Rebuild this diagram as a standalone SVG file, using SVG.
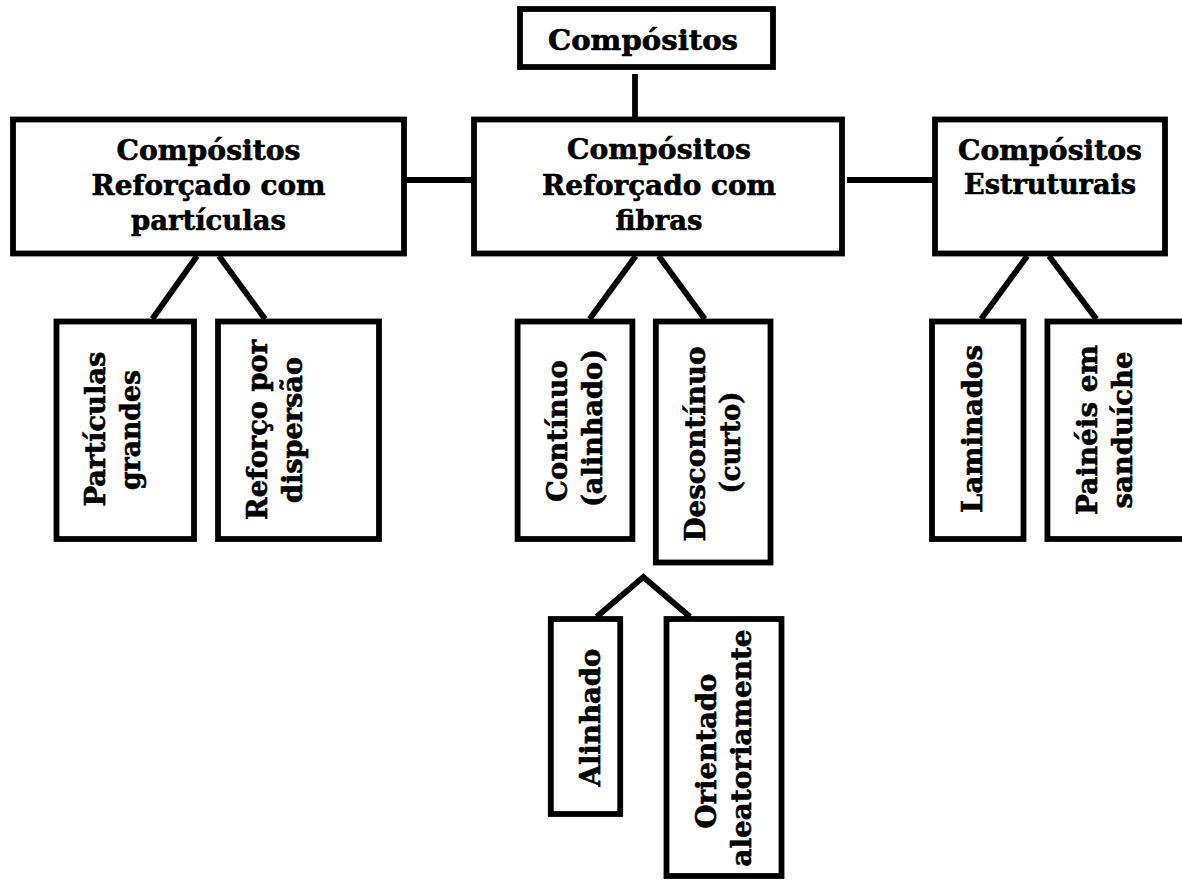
<svg xmlns="http://www.w3.org/2000/svg" width="1182" height="880" viewBox="0 0 1182 880">
<style>
.box{fill:#fff;stroke:#000;stroke-width:5.8}
.ln{fill:none;stroke:#000;stroke-width:5.8;stroke-linejoin:miter}
text{font-family:"DejaVu Serif","Liberation Serif",serif;font-weight:bold;font-size:27.5px;fill:#000;stroke:#000;stroke-width:0.6;text-anchor:middle}
</style>
<rect x="0" y="0" width="1182" height="880" fill="#fff"/>
<g id="connectors">
<line class="ln" x1="635" y1="74" x2="635" y2="119"/>
<line class="ln" x1="404" y1="180" x2="474" y2="180"/>
<line class="ln" x1="847" y1="180" x2="938" y2="180"/>
<line class="ln" x1="197" y1="256" x2="152.3" y2="319"/>
<line class="ln" x1="219" y1="256" x2="265" y2="319"/>
<line class="ln" x1="635.7" y1="256" x2="589.6" y2="319"/>
<line class="ln" x1="658.7" y1="256" x2="704.8" y2="319"/>
<line class="ln" x1="1027.2" y1="256" x2="981.2" y2="319"/>
<line class="ln" x1="1049" y1="256" x2="1096.3" y2="319"/>
<polyline class="ln" points="596.7,616.7 643.3,577 690,616.7"/>
</g>
<g id="n-compositos">
<rect class="box" x="520" y="9" width="253" height="58"/>
<text x="643" y="50" textLength="190" lengthAdjust="spacingAndGlyphs">Compósitos</text>
</g>
<g id="n-particulas">
<rect class="box" x="13" y="119.5" width="391" height="134"/>
<text x="208.5" y="160" textLength="184" lengthAdjust="spacingAndGlyphs">Compósitos</text>
<text x="208.5" y="195" textLength="234" lengthAdjust="spacingAndGlyphs">Reforçado com</text>
<text x="208.5" y="230" textLength="155" lengthAdjust="spacingAndGlyphs">partículas</text>
</g>
<g id="n-fibras">
<rect class="box" x="474" y="119.5" width="368" height="134"/>
<text x="659" y="159" textLength="184" lengthAdjust="spacingAndGlyphs">Compósitos</text>
<text x="659" y="195" textLength="234" lengthAdjust="spacingAndGlyphs">Reforçado com</text>
<text x="659" y="230" textLength="87" lengthAdjust="spacingAndGlyphs">fibras</text>
</g>
<g id="n-estruturais">
<rect class="box" x="935" y="119.5" width="230" height="134"/>
<text x="1050" y="160" textLength="184" lengthAdjust="spacingAndGlyphs">Compósitos</text>
<text x="1050" y="194" textLength="172" lengthAdjust="spacingAndGlyphs">Estruturais</text>
</g>
<g id="n-particulas-grandes">
<rect class="box" x="56.5" y="321.5" width="137.5" height="217.5"/>
<text transform="translate(105,429) rotate(-90)" textLength="155" lengthAdjust="spacingAndGlyphs">Partículas</text>
<text transform="translate(140,430) rotate(-90)" textLength="120" lengthAdjust="spacingAndGlyphs">grandes</text>
</g>
<g id="n-dispersao">
<rect class="box" x="218" y="321.5" width="161" height="217.5"/>
<text transform="translate(266.5,430) rotate(-90)" textLength="180" lengthAdjust="spacingAndGlyphs">Reforço por</text>
<text transform="translate(301.5,430) rotate(-90)" textLength="146" lengthAdjust="spacingAndGlyphs">dispersão</text>
</g>
<g id="n-continuo">
<rect class="box" x="517.6" y="321.5" width="114.8" height="217.5"/>
<text transform="translate(566.5,431) rotate(-90)" textLength="142" lengthAdjust="spacingAndGlyphs">Contínuo</text>
<text transform="translate(601.5,428) rotate(-90)" textLength="158" lengthAdjust="spacingAndGlyphs">(alinhado)</text>
</g>
<g id="n-descontinuo">
<rect class="box" x="655.8" y="321.5" width="114.7" height="241"/>
<text transform="translate(705,444) rotate(-90)" textLength="195" lengthAdjust="spacingAndGlyphs">Descontínuo</text>
<text transform="translate(740,442.5) rotate(-90)" textLength="102" lengthAdjust="spacingAndGlyphs">(curto)</text>
</g>
<g id="n-laminados">
<rect class="box" x="932" y="321.5" width="91.5" height="217.5"/>
<text transform="translate(981.5,429) rotate(-90)" textLength="168" lengthAdjust="spacingAndGlyphs">Laminados</text>
</g>
<g id="n-sanduiche">
<rect class="box" x="1047.4" y="321.5" width="145" height="217.5"/>
<text transform="translate(1096.5,430) rotate(-90)" textLength="170" lengthAdjust="spacingAndGlyphs">Painéis em</text>
<text transform="translate(1131.5,430) rotate(-90)" textLength="157" lengthAdjust="spacingAndGlyphs">sanduíche</text>
</g>
<g id="n-alinhado">
<rect class="box" x="550.8" y="619" width="69.4" height="195"/>
<text transform="translate(600,717.5) rotate(-90)" textLength="138" lengthAdjust="spacingAndGlyphs">Alinhado</text>
</g>
<g id="n-aleatorio">
<rect class="box" x="666.5" y="619" width="115" height="257"/>
<text transform="translate(716,751) rotate(-90)" textLength="155" lengthAdjust="spacingAndGlyphs">Orientado</text>
<text transform="translate(751,748) rotate(-90)" textLength="237" lengthAdjust="spacingAndGlyphs">aleatoriamente</text>
</g>
</svg>
